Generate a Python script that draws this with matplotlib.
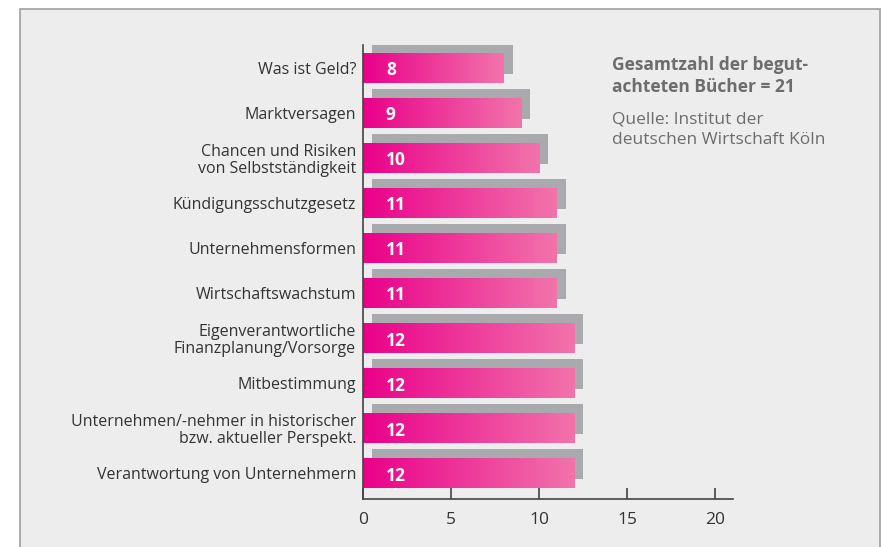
import matplotlib.pyplot as plt
import numpy as np
from matplotlib.patches import Rectangle
from matplotlib.colors import LinearSegmentedColormap

plt.rcParams['font.family'] = ['Open Sans', 'DejaVu Sans']

# Daten
themen = ['Was ist Geld?', 'Marktversagen', 'Chancen und Risiken\nvon Selbstständigkeit',
          'Kündigungsschutzgesetz', 'Unternehmensformen', 'Wirtschaftswachstum',
          'Eigenverantwortliche\nFinanzplanung/Vorsorge', 'Mitbestimmung',
          'Unternehmen/-nehmer in historischer\nbzw. aktueller Perspekt.',
          'Verantwortung von Unternehmern']
anzahl = [8, 9, 10, 11, 11, 11, 12, 12, 12, 12]
x_ticks = [0, 5, 10, 15, 20]
info_titel = 'Gesamtzahl der begut-\nachteten Bücher = 21'
info_quelle = 'Quelle: Institut der\ndeutschen Wirtschaft Köln'

fig = plt.figure(figsize=(8.82, 5.47), dpi=100)
fig.patch.set_facecolor('white')

# grauer Hintergrund-Kasten
panel = Rectangle((20 / 882, -0.05), 860 / 882, 1.05 - 9 / 547, transform=fig.transFigure,
                  facecolor='#ededed', edgecolor='#a0a0a0', linewidth=1.2, zorder=-5)
fig.patches.append(panel)

ax = fig.add_axes([363 / 882, 1 - 499 / 547, (733 - 363) / 882, (499 - 45) / 547])
ax.set_facecolor('none')
ax.set_zorder(2)

cmap = LinearSegmentedColormap.from_list('pink', ['#ea008a', '#f274ab'])
grad = np.linspace(0, 1, 256).reshape(1, -1)

h = 0.667
for i, v in enumerate(anzahl):
    # Schatten
    ax.add_patch(Rectangle((0.5, i - h / 2 - 0.2), v, h, facecolor='#a9aaad',
                           edgecolor='none', zorder=1))
    # Balken mit Verlauf
    rect = Rectangle((0, i - h / 2), v, h, facecolor='none', edgecolor='none', zorder=2)
    ax.add_patch(rect)
    im = ax.imshow(grad, cmap=cmap, aspect='auto', extent=(0, v, i + h / 2, i - h / 2),
                   zorder=2)
    im.set_clip_path(rect)
    ax.text(1.3, i + 0.05, str(v), color='white', fontsize=12.5, fontweight='bold',
            va='center', ha='left', zorder=3)

ax.set_xlim(0, 21)
ax.set_ylim(9.567, -0.51)
ax.set_yticks(range(len(themen)))
ax.set_yticklabels(themen, fontsize=11.5, color='#333333', linespacing=1.08)
ax.set_xticks(x_ticks)
ax.set_xticklabels([str(t) for t in x_ticks], fontsize=12.5, color='#333333')
ax.tick_params(axis='y', length=0, pad=5)
ax.tick_params(axis='x', direction='in', length=8, width=1.2, color='#444444', pad=9)

for s in ['top', 'right']:
    ax.spines[s].set_visible(False)
for s in ['left', 'bottom']:
    ax.spines[s].set_color('#444444')
    ax.spines[s].set_linewidth(1.2)

fig.text(612 / 882, 1 - 56 / 547, info_titel, fontsize=12.5, fontweight='bold',
         color='#6d6d6d', va='top', ha='left', linespacing=1.32)
fig.text(612 / 882, 1 - 112 / 547, info_quelle, fontsize=12.5, color='#6d6d6d',
         va='top', ha='left', linespacing=1.32)

fig.savefig('out.png', dpi=100)
